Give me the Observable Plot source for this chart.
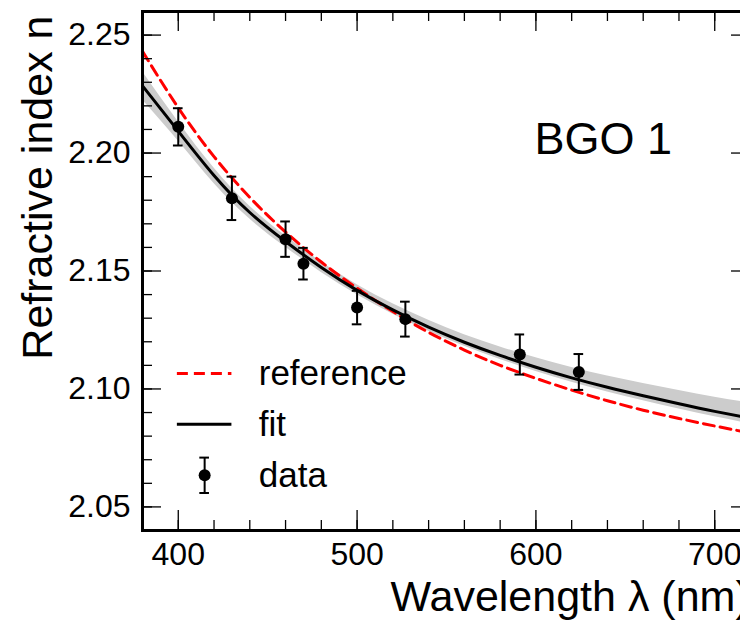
<!DOCTYPE html>
<html>
<head>
<meta charset="utf-8">
<script src="https://cdn.jsdelivr.net/npm/d3@7"></script>
<script src="https://cdn.jsdelivr.net/npm/@observablehq/plot@0.6"></script>
<style>
  html, body { margin: 0; padding: 0; background: #fff; overflow: hidden; width: 740px; height: 620px; }
</style>
</head>
<body>
<div id="chart"></div>
<script>
// ---- data ----
const wavelengths = [380, 400, 420, 440, 460, 480, 500, 520, 540, 560, 580, 600, 620, 640, 660, 680, 700, 720];
const fitValues   = [2.2285, 2.2093, 2.1905, 2.1748, 2.1625, 2.1515, 2.1418, 2.1335, 2.1262, 2.1198, 2.1142, 2.1092, 2.1047, 2.1007, 2.0971, 2.0937, 2.0905, 2.0876];
const bandLow     = [2.2225, 2.2051, 2.1871, 2.1720, 2.1601, 2.1494, 2.1399, 2.1317, 2.1245, 2.1181, 2.1125, 2.1074, 2.1028, 2.0987, 2.0950, 2.0915, 2.0882, 2.0852];
const bandHigh    = [2.2345, 2.2133, 2.1937, 2.1775, 2.1649, 2.1538, 2.1442, 2.1361, 2.1291, 2.1230, 2.1178, 2.1132, 2.1091, 2.1055, 2.1023, 2.0993, 2.0965, 2.0940];
const refValues   = [2.2431, 2.2192, 2.1985, 2.1812, 2.1665, 2.1538, 2.1427, 2.1328, 2.1240, 2.1165, 2.1100, 2.1045, 2.0995, 2.0950, 2.0910, 2.0875, 2.0843, 2.0813];

const dataWavelength = [400, 430, 460, 470, 500, 527, 591, 624];
const dataIndex      = [2.2111, 2.1808, 2.1635, 2.1531, 2.1345, 2.1296, 2.1146, 2.1072];
const dataError      = [0.0079, 0.0092, 0.0075, 0.0067, 0.0071, 0.0074, 0.0085, 0.0076];

const xMajorTicks = [400, 500, 600, 700];
const xMinorTicks = d3.range(380, 721, 20);
const yMajorTicks = [2.05, 2.10, 2.15, 2.20, 2.25];
const yMinorTicks = d3.range(0, 23).map(i => +(2.04 + i * 0.01).toFixed(2));

const legendLabels = ["reference", "fit", "data"];
// legend layout (in data units of the frame)
const legendRowsY = [2.1066, 2.0850, 2.0634];
const legendKeyX = [399.5, 430];
const legendTextX = 445;

const titleText = "BGO 1";
const xTitle = "Wavelength λ (nm)";
const yTitle = "Refractive index n";

// ---- tables ----
const curve = wavelengths.map((w, i) => ({w, fit: fitValues[i], lo: bandLow[i], hi: bandHigh[i], ref: refValues[i]}));
const points = dataWavelength.map((w, i) => ({w, n: dataIndex[i], e: dataError[i]}));
const capHalf = 2.7;

const W = 760, H = 620, mL = 142, mR = 10, mT = 11, mB = 90;
const fw = W - mL - mR, fh = H - mT - mB;
const font = "Liberation Sans, Arial, Helvetica, sans-serif";

const legendKeyMid = (legendKeyX[0] + legendKeyX[1]) / 2;

const plot = Plot.plot({
  width: W, height: H,
  marginLeft: mL, marginRight: mR, marginTop: mT, marginBottom: mB,
  style: {fontFamily: font, maxWidth: "none", background: "white", overflow: "visible"},
  x: {domain: [380, 720], axis: null},
  y: {domain: [2.04, 2.26], axis: null},
  marks: [
    // uncertainty band
    Plot.areaY(curve, {x: "w", y1: "lo", y2: "hi", fill: "#cccccc", curve: "natural"}),
    // reference curve
    Plot.line(curve, {x: "w", y: "ref", stroke: "#ff0000", strokeWidth: 3, strokeDasharray: "11,6", curve: "natural"}),
    // fit curve
    Plot.line(curve, {x: "w", y: "fit", stroke: "black", strokeWidth: 3, curve: "natural"}),
    // error bars
    Plot.ruleX(points, {x: "w", y1: d => d.n - d.e, y2: d => d.n + d.e, stroke: "black", strokeWidth: 2}),
    Plot.ruleY(points, {y: d => d.n - d.e, x1: d => d.w - capHalf, x2: d => d.w + capHalf, stroke: "black", strokeWidth: 2}),
    Plot.ruleY(points, {y: d => d.n + d.e, x1: d => d.w - capHalf, x2: d => d.w + capHalf, stroke: "black", strokeWidth: 2}),
    Plot.dot(points, {x: "w", y: "n", r: 6, fill: "black"}),

    // ticks pointing inward on all four sides
    Plot.tickY(yMajorTicks, {y: d => d, insetRight: fw - 19, stroke: "black", strokeWidth: 1.3}),
    Plot.tickY(yMinorTicks, {y: d => d, insetRight: fw - 10, stroke: "black", strokeWidth: 1.3}),
    Plot.tickY(yMajorTicks, {y: d => d, insetLeft: fw - 19, stroke: "black", strokeWidth: 1.3}),
    Plot.tickY(yMinorTicks, {y: d => d, insetLeft: fw - 10, stroke: "black", strokeWidth: 1.3}),
    Plot.tickX(xMajorTicks, {x: d => d, insetTop: fh - 20, stroke: "black", strokeWidth: 1.3}),
    Plot.tickX(xMinorTicks, {x: d => d, insetTop: fh - 10, stroke: "black", strokeWidth: 1.3}),
    Plot.tickX(xMajorTicks, {x: d => d, insetBottom: fh - 20, stroke: "black", strokeWidth: 1.3}),
    Plot.tickX(xMinorTicks, {x: d => d, insetBottom: fh - 10, stroke: "black", strokeWidth: 1.3}),

    // tick labels
    Plot.axisY({ticks: yMajorTicks, tickSize: 0, tickPadding: 12, tickFormat: d => d.toFixed(2), fontSize: 32, label: null, anchor: "left"}),
    Plot.axisX({ticks: xMajorTicks, tickSize: 0, tickPadding: 12, tickFormat: d => String(d), fontSize: 32, label: null, anchor: "bottom"}),

    // frame
    Plot.frame({stroke: "black", strokeWidth: 3}),

    // axis titles
    Plot.text([yTitle], {frameAnchor: "top-left", rotate: -90, textAnchor: "end", lineAnchor: "bottom", dx: -91, dy: 4, fontSize: 43, fill: "black"}),
    Plot.text([xTitle], {frameAnchor: "bottom-left", textAnchor: "start", lineAnchor: "bottom", dx: 248, dy: 80, fontSize: 43, fill: "black"}),
    // panel label
    Plot.text([titleText], {frameAnchor: "top-left", textAnchor: "start", lineAnchor: "bottom", dx: 392, dy: 142, fontSize: 45, fill: "black"}),

    // legend
    Plot.ruleY([legendRowsY[0]], {y: d => d, x1: legendKeyX[0], x2: legendKeyX[1], stroke: "#ff0000", strokeWidth: 3, strokeDasharray: "11,6"}),
    Plot.ruleY([legendRowsY[1]], {y: d => d, x1: legendKeyX[0], x2: legendKeyX[1], stroke: "black", strokeWidth: 3}),
    Plot.ruleX([legendRowsY[2]], {x: legendKeyMid, y1: d => d - 0.0075, y2: d => d + 0.0075, stroke: "black", strokeWidth: 2}),
    Plot.ruleY([legendRowsY[2] - 0.0075, legendRowsY[2] + 0.0075], {y: d => d, x1: legendKeyMid - capHalf, x2: legendKeyMid + capHalf, stroke: "black", strokeWidth: 2}),
    Plot.dot([legendRowsY[2]], {x: legendKeyMid, y: d => d, r: 6, fill: "black"}),
    Plot.text(legendLabels, {x: legendTextX, y: (d, i) => legendRowsY[i], text: d => d, textAnchor: "start", lineAnchor: "middle", fontSize: 35, fill: "black"})
  ]
});

document.getElementById("chart").appendChild(plot);
</script>
</body>
</html>
